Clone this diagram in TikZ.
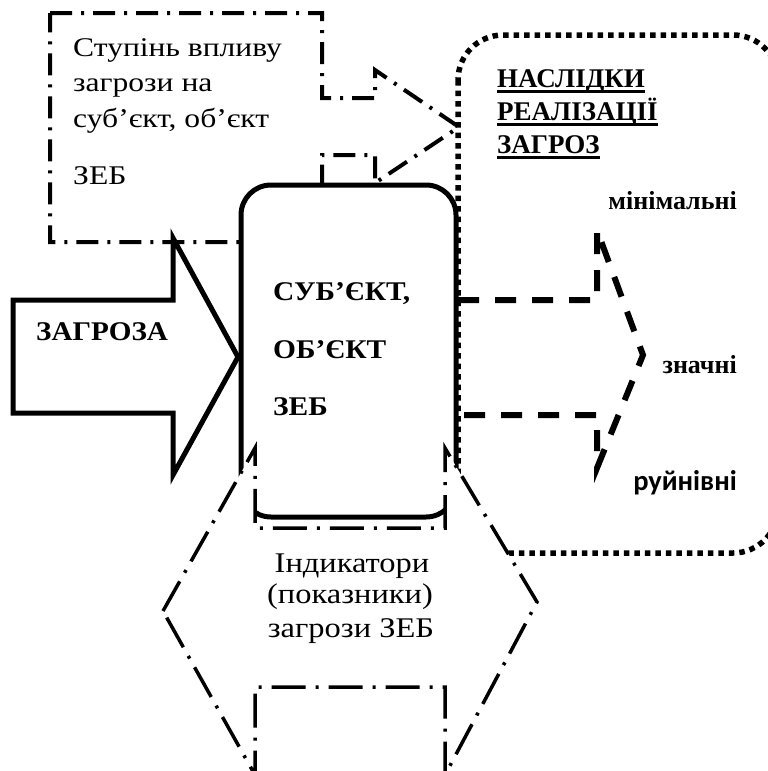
\documentclass[tikz,border=0pt]{standalone}
\usepackage{fontspec}
\setmainfont{Liberation Serif}
\newfontfamily\carl{Carlito}
\newcommand\ulbar[1]{\setbox0\hbox{#1}\rlap{\rule[-6pt]{\wd0}{3pt}}\box0}
\newcommand\sx[2]{\scalebox{#1}[1]{#2}}
\tikzset{
  ddash/.style={line width=4pt, dash pattern=on 22pt off 9pt on 3pt off 9pt},
  ddlong/.style={line width=3.5pt, dash pattern=on 34pt off 10pt on 3pt off 10pt},
  dotline/.style={line width=5.5pt, dash pattern=on 5.5pt off 5pt},
  dashline/.style={line width=6pt, dash pattern=on 21pt off 16pt},
  solidline/.style={line width=5pt, line join=miter},
  txt/.style={inner sep=0pt, anchor=base west},
  txtr/.style={inner sep=0pt, anchor=base east},
  txtc/.style={inner sep=0pt, anchor=base},
  callfont/.style={font=\fontsize{27}{30}\selectfont},
  boldfont/.style={font=\fontsize{27}{30}\selectfont\bfseries},
  indfont/.style={font=\fontsize{28.5}{30}\selectfont},
}
\begin{document}
\begin{tikzpicture}[x=1pt,y=-1pt]
\useasboundingbox (0,0) rectangle (768,771);
\clip (0,0) rectangle (768,771);
% callout
\draw[ddash, fill=white] (50,13) -- (322,13) -- (322,98) -- (375,98) -- (375,70) -- (459,127) -- (375,183) -- (375,155) -- (322,155) -- (322,242) -- (50,242) -- cycle;
% threat arrow
\draw[solidline, fill=white] (13,300) -- (173,300) -- (173,238) -- (238,357) -- (173,475) -- (173,413) -- (13,413) -- cycle;
% subject box
\draw[line width=5pt, fill=white, rounded corners=30pt] (241,185) rectangle (456,517);
% consequences box
\draw[dotline, rounded corners=45pt] (458,35) rectangle (778,553);
% dashed arrow
\draw[dashline] (458,300) -- (597,300) -- (597,230) -- (643,355) -- (597,468) -- (597,415) -- (458,415);
% double arrow
\draw[ddlong, fill=white] (163,611) -- (255,448) -- (255,528) -- (445,528) -- (445,448) -- (537,602) -- (445,775) -- (445,687) -- (255,687) -- (255,775) -- cycle;
% texts
\node[txt, callfont] (c1) at (73,56) {\sx{1.17}{Ступінь впливу}};
\node[txt, callfont] (c2) at (73,91) {\sx{1.17}{загрози на}};
\node[txt, callfont] (c3) at (73,127) {\sx{1.17}{суб’єкт, об’єкт}};
\node[txt, callfont] (c4) at (73,184) {\sx{1.17}{ЗЕБ}};
\node[txt, boldfont] (thr) at (36,340) {\sx{1.08}{ЗАГРОЗА}};
\node[txt, boldfont] (s1) at (273,300) {\sx{1.09}{СУБ’ЄКТ,}};
\node[txt, boldfont] (s2) at (273,358) {\sx{1.09}{ОБ’ЄКТ}};
\node[txt, boldfont] (s3) at (273,415) {\sx{1.09}{ЗЕБ}};
\node[txt, boldfont] (h1) at (497,87) {\ulbar{НАСЛІДКИ}};
\node[txt, boldfont] (h2) at (497,120) {\ulbar{РЕАЛІЗАЦІЇ}};
\node[txt, boldfont] (h3) at (497,153) {\ulbar{ЗАГРОЗ}};
\node[txtr, font=\fontsize{26}{28}\selectfont\bfseries] (m1) at (737,209) {мінімальні};
\node[txtr, font=\fontsize{26}{28}\selectfont\bfseries] (m2) at (737,373) {значні};
\node[txtr, font=\fontsize{28.5}{30}\selectfont\bfseries\carl] (m3) at (737,490) {руйнівні};
\node[txtc, indfont] (i1) at (352,572) {\sx{1.14}{Індикатори}};
\node[txtc, indfont] (i2) at (350,603) {\sx{1.14}{(показники)}};
\node[txtc, indfont] (i3) at (351,637) {\sx{1.14}{загрози ЗЕБ}};
\end{tikzpicture}
\end{document}
